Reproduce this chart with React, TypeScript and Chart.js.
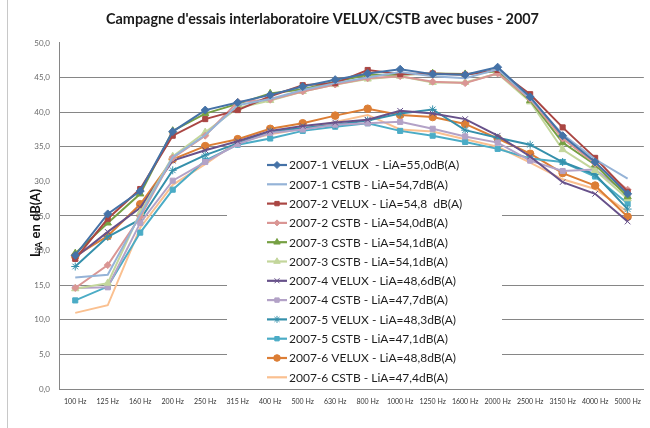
import React, { useEffect, useRef } from 'react';
import { Chart, registerables } from 'chart.js';
import { drawPoint } from 'chart.js/helpers';

Chart.register(...registerables);

const titleText = "Campagne d'essais interlaboratoire VELUX/CSTB avec buses - 2007";

const categories = ['100 Hz', '125 Hz', '160 Hz', '200 Hz', '250 Hz', '315 Hz', '400 Hz', '500 Hz', '630 Hz', '800 Hz', '1000 Hz', '1250 Hz', '1600 Hz', '2000 Hz', '2500 Hz', '3150 Hz', '4000 Hz', '5000 Hz'];

const seriesLabels = [
  '2007-1 VELUX  - LiA=55,0dB(A)',
  '2007-1 CSTB - LiA=54,7dB(A)',
  '2007-2 VELUX - LiA=54,8  dB(A)',
  '2007-2 CSTB - LiA=54,0dB(A)',
  '2007-3 CSTB - LiA=54,1dB(A)',
  '2007-3 CSTB - LiA=54,1dB(A)',
  '2007-4 VELUX - LiA=48,6dB(A)',
  '2007-4 CSTB - LiA=47,7dB(A)',
  '2007-5 VELUX - LiA=48,3dB(A)',
  '2007-5 CSTB - LiA=47,1dB(A)',
  '2007-6 VELUX - LiA=48,8dB(A)',
  '2007-6 CSTB - LiA=47,4dB(A)',
];

const velux1 = [19.3, 25.3, 28.6, 37.2, 40.3, 41.4, 42.5, 43.7, 44.7, 45.6, 46.2, 45.5, 45.4, 46.5, 42.2, 36.6, 32.8, 28.2];
const cstb1 = [16.1, 16.5, 25.2, 33.5, 36.7, 41.0, 41.9, 43.2, 44.2, 45.0, 45.8, 45.2, 44.9, 46.2, 42.0, 36.8, 33.2, 30.4];
const velux2 = [18.8, 24.6, 28.9, 36.6, 39.0, 40.3, 42.3, 43.9, 44.2, 46.1, 45.5, 45.6, 45.4, 46.1, 42.6, 37.8, 33.4, 28.5];
const cstb2 = [14.6, 17.9, 24.9, 33.4, 36.6, 41.5, 41.8, 43.0, 44.0, 44.9, 45.2, 44.4, 44.2, 45.6, 41.9, 36.2, 32.6, 28.8];
const velux3 = [19.6, 24.0, 28.2, 37.3, 39.8, 41.2, 42.7, 43.3, 44.4, 45.4, 45.4, 45.6, 45.5, 45.9, 41.7, 35.6, 32.4, 27.8];
const cstb3 = [14.5, 15.3, 25.5, 33.6, 37.1, 40.6, 41.7, 43.0, 44.0, 44.8, 45.2, 44.3, 44.3, 45.6, 41.5, 34.6, 31.6, 27.5];
const velux4 = [19.0, 22.7, 26.2, 33.0, 34.5, 35.8, 37.3, 38.0, 38.5, 38.9, 40.2, 39.8, 39.0, 36.6, 33.6, 29.9, 28.2, 24.2];
const cstb4 = [14.6, 14.7, 24.0, 30.1, 32.8, 35.4, 37.0, 37.5, 38.2, 38.4, 38.6, 37.6, 36.5, 35.6, 33.0, 31.5, 31.7, 28.2];
const velux5 = [17.7, 22.0, 24.5, 31.6, 33.8, 35.5, 37.2, 37.7, 38.2, 38.8, 39.8, 40.4, 37.4, 36.3, 35.3, 32.8, 31.0, 26.0];
const cstb5 = [12.8, 14.8, 22.6, 28.8, 33.0, 35.3, 36.2, 37.3, 37.9, 38.4, 37.3, 36.6, 35.7, 34.7, 33.3, 32.8, 30.7, 26.8];
const velux6 = [19.2, 22.1, 26.7, 33.2, 35.1, 36.1, 37.6, 38.4, 39.5, 40.5, 39.6, 39.3, 38.3, 36.2, 34.0, 31.2, 29.4, 24.9];
const cstb6 = [11.0, 12.1, 23.3, 29.5, 32.5, 35.7, 36.8, 37.6, 38.6, 39.6, 37.5, 37.2, 36.1, 35.0, 32.7, 30.3, 28.9, 25.6];

const seriesValues = [velux1, cstb1, velux2, cstb2, velux3, cstb3, velux4, cstb4, velux5, cstb5, velux6, cstb6];
const seriesColors = ['#4572A7', '#95B3D7', '#AA4643', '#DA9694', '#76A043', '#C3D69B', '#67518A', '#B3A2C7', '#3590AB', '#4BACC6', '#DC7E35', '#FAC090'];
const seriesMarkers = ['rectRot', false, 'rect', 'rectRot', 'triangle', 'triangle', 'crossRot', 'rect', 'star', 'rect', 'circle', false];
const markerSizes = [4, 0, 3.6, 3.5, 4.2, 4.2, 4, 3.6, 4, 3.6, 3.8, 0];

const yTickValues = [0, 5, 10, 15, 20, 25, 30, 35, 40, 45, 50];
const hiddenGridValues = [20, 30, 50];

const FONT = 'Lato, "Liberation Sans", sans-serif';

const frameLine = {
  id: 'frameLine',
  beforeDraw(chart: any) {
    const ctx = chart.ctx;
    ctx.save();
    ctx.strokeStyle = '#c8c8c8';
    ctx.lineWidth = 1;
    ctx.beginPath();
    ctx.moveTo(7.5, 0);
    ctx.lineTo(7.5, chart.height);
    ctx.stroke();
    ctx.restore();
  },
};

const boxLegend = {
  id: 'boxLegend',
  beforeDatasetsDraw(chart: any) {
    const ctx = chart.ctx;
    ctx.save();
    ctx.fillStyle = '#ffffff';
    ctx.fillRect(227, 151, 275, 236);
    const x0 = 267;
    const y0 = 165;
    const step = 19.3;
    chart.data.datasets.forEach((ds: any, i: number) => {
      const y = y0 + i * step;
      ctx.strokeStyle = ds.borderColor;
      ctx.lineWidth = 2.2;
      ctx.beginPath();
      ctx.moveTo(x0, y);
      ctx.lineTo(x0 + 20, y);
      ctx.stroke();
      if (ds.pointStyle && ds.pointRadius > 0) {
        ctx.fillStyle = ds.pointBackgroundColor;
        ctx.strokeStyle = ds.pointBorderColor;
        ctx.lineWidth = 1;
        drawPoint(ctx, { pointStyle: ds.pointStyle, rotation: 0, radius: ds.pointRadius - 0.5, borderWidth: 1 } as any, x0 + 10, y);
      }
      ctx.fillStyle = '#1e1e1e';
      ctx.font = '12px ' + FONT;
      ctx.textBaseline = 'middle';
      ctx.textAlign = 'left';
      ctx.fillText(ds.label, x0 + 22, y + 0.5);
    });
    ctx.restore();
  },
};

const yTitle = {
  id: 'yTitle',
  afterDraw(chart: any) {
    const ctx = chart.ctx;
    const { top, bottom } = chart.chartArea;
    ctx.save();
    ctx.translate(36, (top + bottom) / 2 + 7);
    ctx.rotate(-Math.PI / 2);
    const big = 'bold 13px ' + FONT;
    const small = 'bold 9px ' + FONT;
    ctx.font = big;
    const wL = ctx.measureText('L').width;
    const wR = ctx.measureText(' en dB(A)').width;
    ctx.font = small;
    const wS = ctx.measureText('iA').width;
    let x = -(wL + wS + wR) / 2;
    ctx.fillStyle = '#111';
    ctx.textBaseline = 'middle';
    ctx.textAlign = 'left';
    ctx.font = big;
    ctx.fillText('L', x, 0);
    x += wL;
    ctx.font = small;
    ctx.fillText('iA', x, 3.5);
    x += wS;
    ctx.font = big;
    ctx.fillText(' en dB(A)', x, 0);
    ctx.restore();
  },
};

export default function App() {
  const canvasRef = useRef<HTMLCanvasElement>(null);

  useEffect(() => {
    if (!canvasRef.current) return;
    const chart = new Chart(canvasRef.current, {
      type: 'line',
      data: {
        labels: categories,
        datasets: seriesValues.map((vals, i) => ({
          label: seriesLabels[i],
          data: vals,
          borderColor: seriesColors[i],
          backgroundColor: seriesColors[i],
          pointBackgroundColor: seriesColors[i],
          pointBorderColor: seriesColors[i],
          pointStyle: seriesMarkers[i] as any,
          pointRadius: markerSizes[i],
          pointBorderWidth: 1,
          borderWidth: 2,
          tension: 0,
          fill: false,
        })),
      },
      options: {
        animation: false,
        responsive: true,
        maintainAspectRatio: false,
        layout: { padding: { left: 0, right: 5, top: 0, bottom: 0 } },
        plugins: {
          legend: { display: false },
          tooltip: { enabled: false },
          title: {
            display: true,
            text: titleText,
            color: '#1a1a1a',
            font: { family: FONT, size: 14.4, weight: 'bold' },
            padding: { top: 11, bottom: 14.7 },
          },
        },
        scales: {
          x: {
            type: 'category',
            offset: true,
            grid: { display: false, drawTicks: false },
            border: { display: true, color: '#868686', width: 1 },
            ticks: {
              font: { family: FONT, size: 7 },
              color: '#333',
              padding: 9,
              maxRotation: 0,
              autoSkip: false,
            },
            afterFit(s: any) {
              s.height = 39;
            },
          },
          y: {
            min: 0,
            max: 50,
            afterBuildTicks(s: any) {
              s.ticks = yTickValues.map((v) => ({ value: v }));
            },
            ticks: {
              font: { family: FONT, size: 8 },
              color: '#6a6a6a',
              padding: 9,
              callback: (v: any) => Number(v).toFixed(1).replace('.', ','),
            },
            grid: {
              drawTicks: false,
              color: (c: any) => (c.tick && hiddenGridValues.includes(c.tick.value) ? 'rgba(0,0,0,0)' : '#868686'),
              lineWidth: 1,
            },
            border: { display: true, color: '#868686', width: 1 },
            afterFit(s: any) {
              s.width = 59;
            },
          },
        },
      },
      plugins: [frameLine, boxLegend, yTitle],
    });
    return () => chart.destroy();
  }, []);

  return (
    <div style={{ position: 'absolute', left: 0, top: 0, width: 650, height: 428, background: '#fff' }}>
      <canvas ref={canvasRef} />
    </div>
  );
}
